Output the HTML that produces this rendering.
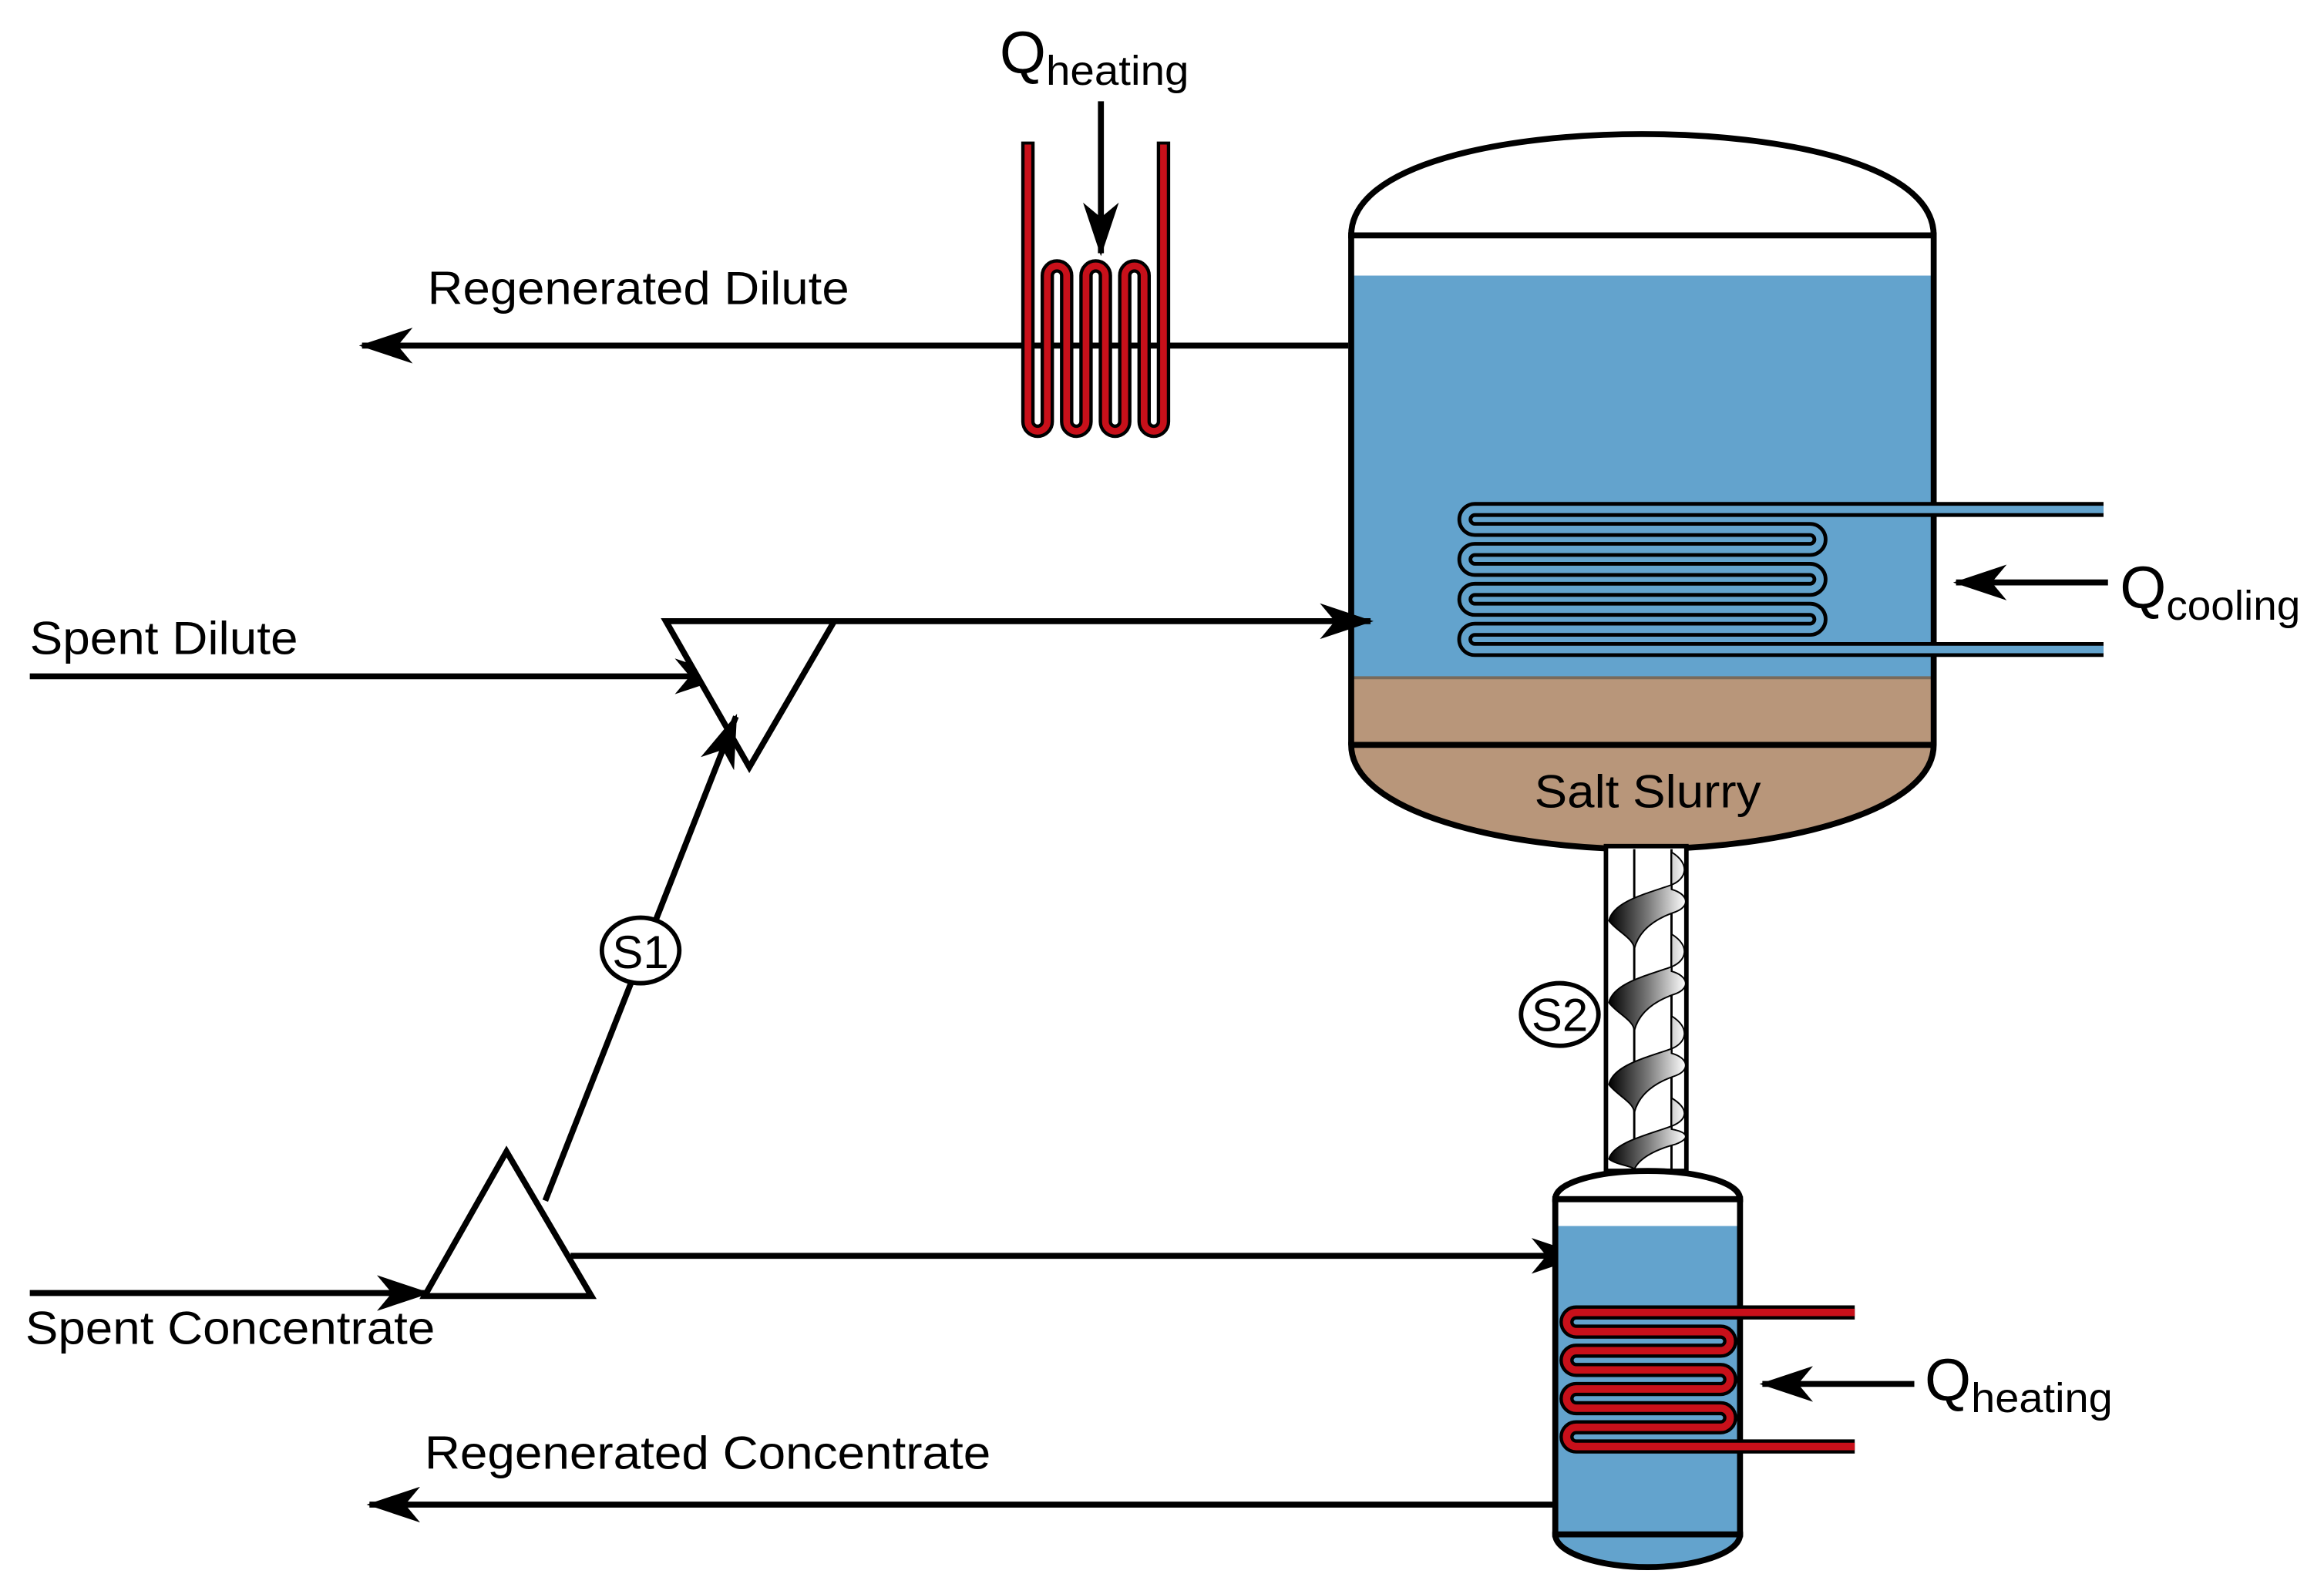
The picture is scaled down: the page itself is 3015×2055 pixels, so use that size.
<!DOCTYPE html>
<html><head><meta charset="utf-8"><style>html,body{margin:0;padding:0;background:#fff}svg{display:block}text{font-family:"Liberation Sans",Arial,sans-serif;fill:#000}</style></head>
<body>
<svg width="3015" height="2055" viewBox="0 0 1560 1063.3" preserveAspectRatio="none" xmlns="http://www.w3.org/2000/svg">
<defs>
<marker id="ar" viewBox="0 0 36 24" refX="34" refY="12" markerWidth="36" markerHeight="24" markerUnits="userSpaceOnUse" orient="auto">
<path d="M0,0 L36,12 L0,24 L10,12 Z" fill="#000"/>
</marker>
<linearGradient id="bl" x1="0" x2="1" y1="0" y2="0"><stop offset="0" stop-color="#000"/><stop offset="0.5" stop-color="#777"/><stop offset="1" stop-color="#fff"/></linearGradient>
</defs>

<path d="M907,158 C907,110 1010,90 1102,90 C1195,90 1298,110 1298,158 Z" fill="#fff" stroke="#000" stroke-width="4"/>
<rect x="907" y="158" width="391" height="27" fill="#fff"/>
<rect x="907" y="185" width="391" height="270" fill="#63a3cd"/>
<rect x="907" y="455" width="391" height="45" fill="#b8967a"/>
<line x1="907" y1="455" x2="1298" y2="455" stroke="#7a6a5a" stroke-width="2"/>
<path d="M907,500 C907,545 1010,570 1102,570 C1195,570 1298,545 1298,500 Z" fill="#b8967a" stroke="#000" stroke-width="4"/>
<line x1="907" y1="158" x2="907" y2="500" stroke="#000" stroke-width="4"/>
<line x1="1298" y1="158" x2="1298" y2="500" stroke="#000" stroke-width="4"/>
<line x1="905" y1="158" x2="1300" y2="158" stroke="#000" stroke-width="4"/>
<text x="1030" y="542" font-size="31" textLength="152" lengthAdjust="spacingAndGlyphs">Salt Slurry</text>

<g fill="none" stroke-linejoin="round">
<path d="M1412,342 L990,342 A6.7,6.7 0 0 0 990,355.4 L1215,355.4 A6.7,6.7 0 0 1 1215,368.8 L990,368.8 A6.7,6.7 0 0 0 990,382.2 L1215,382.2 A6.7,6.7 0 0 1 1215,395.6 L990,395.6 A6.7,6.7 0 0 0 990,409 L1215,409 A6.7,6.7 0 0 1 1215,422.4 L990,422.4 A6.7,6.7 0 0 0 990,436 L1412,436" stroke="#000" stroke-width="10"/>
<path d="M1412,342 L990,342 A6.7,6.7 0 0 0 990,355.4 L1215,355.4 A6.7,6.7 0 0 1 1215,368.8 L990,368.8 A6.7,6.7 0 0 0 990,382.2 L1215,382.2 A6.7,6.7 0 0 1 1215,395.6 L990,395.6 A6.7,6.7 0 0 0 990,409 L1215,409 A6.7,6.7 0 0 1 1215,422.4 L990,422.4 A6.7,6.7 0 0 0 990,436 L1412,436" stroke="#63a3cd" stroke-width="5"/>
</g>
<line x1="1415" y1="391" x2="1313" y2="391" stroke="#000" stroke-width="4" marker-end="url(#ar)"/>
<text x="1423" y="408" font-size="40">Q<tspan font-size="28" dy="8" textLength="90" lengthAdjust="spacingAndGlyphs">cooling</tspan></text>

<line x1="905" y1="232" x2="243" y2="232" stroke="#000" stroke-width="4" marker-end="url(#ar)"/>
<g fill="none">
<path d="M690,95 L690,283 A6.5,6.5 0 0 0 703,283 L703,185 A6.5,6.5 0 0 1 716,185 L716,283 A6.5,6.5 0 0 0 729,283 L729,185 A6.5,6.5 0 0 1 742,185 L742,283 A6.5,6.5 0 0 0 755,283 L755,185 A6.5,6.5 0 0 1 768,185 L768,283 A6.5,6.5 0 0 0 781,283 L781,95" stroke="#000" stroke-width="9"/>
<path d="M690,97 L690,283 A6.5,6.5 0 0 0 703,283 L703,185 A6.5,6.5 0 0 1 716,185 L716,283 A6.5,6.5 0 0 0 729,283 L729,185 A6.5,6.5 0 0 1 742,185 L742,283 A6.5,6.5 0 0 0 755,283 L755,185 A6.5,6.5 0 0 1 768,185 L768,283 A6.5,6.5 0 0 0 781,283 L781,97" stroke="#c8101a" stroke-width="4.5"/>
</g>
<line x1="739" y1="68" x2="739" y2="170" stroke="#000" stroke-width="4" marker-end="url(#ar)"/>
<text x="671" y="49" font-size="40">Q<tspan font-size="28" dy="8" textLength="96" lengthAdjust="spacingAndGlyphs">heating</tspan></text>
<text x="287" y="204" font-size="31" textLength="283" lengthAdjust="spacingAndGlyphs">Regenerated Dilute</text>

<text x="20" y="439" font-size="31" textLength="180" lengthAdjust="spacingAndGlyphs">Spent Dilute</text>
<line x1="20" y1="454" x2="487" y2="454" stroke="#000" stroke-width="4" marker-end="url(#ar)"/>
<path d="M447,417 L560,417 L503,515 Z" fill="#fff" stroke="#000" stroke-width="4"/>
<line x1="560" y1="417" x2="920" y2="417" stroke="#000" stroke-width="4" marker-end="url(#ar)"/>
<line x1="366" y1="806" x2="494" y2="481" stroke="#000" stroke-width="4" marker-end="url(#ar)"/>
<ellipse cx="430" cy="638" rx="26" ry="22" fill="#fff" stroke="#000" stroke-width="3"/>
<text x="430" y="650" font-size="31" text-anchor="middle">S1</text>

<line x1="20" y1="868" x2="287" y2="868" stroke="#000" stroke-width="4" marker-end="url(#ar)"/>
<path d="M340,773 L285,870 L397,870 Z" fill="#fff" stroke="#000" stroke-width="4"/>
<line x1="383" y1="843" x2="1062" y2="843" stroke="#000" stroke-width="4" marker-end="url(#ar)"/>
<text x="17" y="902" font-size="31" textLength="275" lengthAdjust="spacingAndGlyphs">Spent Concentrate</text>

<rect x="1078" y="568" width="54" height="218" fill="#fff" stroke="#000" stroke-width="3"/>
<line x1="1097" y1="570" x2="1097" y2="785" stroke="#000" stroke-width="1.5"/>
<line x1="1122" y1="570" x2="1122" y2="785" stroke="#000" stroke-width="1.5"/>
<g fill="url(#bl)" stroke="#000" stroke-width="1">
<path d="M1122,572 C1135,580 1132,590 1122,594 C1105,600 1083,605 1080,618 C1085,625 1097,630 1097,637 C1100,625 1110,617 1125,612 C1135,608 1133,600 1122,597 Z"/>
<path d="M1122,627 C1135,635 1132,645 1122,649 C1105,655 1083,660 1080,673 C1085,680 1097,685 1097,692 C1100,680 1110,672 1125,667 C1135,663 1133,655 1122,652 Z"/>
<path d="M1122,682 C1135,690 1132,700 1122,704 C1105,710 1083,715 1080,728 C1085,735 1097,740 1097,747 C1100,735 1110,727 1125,722 C1135,718 1133,710 1122,707 Z"/>
<path d="M1122,737 C1135,745 1132,752 1122,756 C1105,762 1083,767 1080,778 C1085,782 1097,783 1097,785 C1100,778 1110,772 1125,768 C1135,764 1133,760 1122,758 Z"/>
</g>
<ellipse cx="1047" cy="681" rx="26" ry="21" fill="#fff" stroke="#000" stroke-width="3"/>
<text x="1047" y="692" font-size="31" text-anchor="middle">S2</text>

<path d="M1044,805 C1044,793 1075,786 1106,786 C1137,786 1168,793 1168,805 Z" fill="#fff" stroke="#000" stroke-width="4"/>
<rect x="1044" y="823" width="124" height="207" fill="#63a3cd"/>
<path d="M1044,1030 C1044,1043 1075,1052 1106,1052 C1137,1052 1168,1043 1168,1030 Z" fill="#63a3cd" stroke="#000" stroke-width="4"/>
<line x1="1044" y1="805" x2="1044" y2="1032" stroke="#000" stroke-width="4"/>
<line x1="1168" y1="805" x2="1168" y2="1032" stroke="#000" stroke-width="4"/>
<line x1="1042" y1="805" x2="1170" y2="805" stroke="#000" stroke-width="4"/>
<line x1="1042" y1="1030" x2="1170" y2="1030" stroke="#000" stroke-width="3"/>
<g fill="none">
<path d="M1245,881 L1058,881 A6.4,6.4 0 0 0 1058,893.9 L1155,893.9 A6.4,6.4 0 0 1 1155,906.7 L1058,906.7 A6.4,6.4 0 0 0 1058,919.6 L1155,919.6 A6.4,6.4 0 0 1 1155,932.4 L1058,932.4 A6.4,6.4 0 0 0 1058,945.3 L1155,945.3 A6.4,6.4 0 0 1 1155,958.1 L1058,958.1 A6.4,6.4 0 0 0 1058,971 L1245,971" stroke="#000" stroke-width="9.5"/>
<path d="M1245,881 L1058,881 A6.4,6.4 0 0 0 1058,893.9 L1155,893.9 A6.4,6.4 0 0 1 1155,906.7 L1058,906.7 A6.4,6.4 0 0 0 1058,919.6 L1155,919.6 A6.4,6.4 0 0 1 1155,932.4 L1058,932.4 A6.4,6.4 0 0 0 1058,945.3 L1155,945.3 A6.4,6.4 0 0 1 1155,958.1 L1058,958.1 A6.4,6.4 0 0 0 1058,971 L1245,971" stroke="#c8101a" stroke-width="5"/>
</g>
<line x1="1285" y1="929" x2="1183" y2="929" stroke="#000" stroke-width="4" marker-end="url(#ar)"/>
<text x="1292" y="940" font-size="40">Q<tspan font-size="28" dy="8" textLength="95" lengthAdjust="spacingAndGlyphs">heating</tspan></text>

<line x1="1044" y1="1010" x2="248" y2="1010" stroke="#000" stroke-width="4" marker-end="url(#ar)"/>
<text x="285" y="986" font-size="31" textLength="380" lengthAdjust="spacingAndGlyphs">Regenerated Concentrate</text>
</svg>
</body></html>
